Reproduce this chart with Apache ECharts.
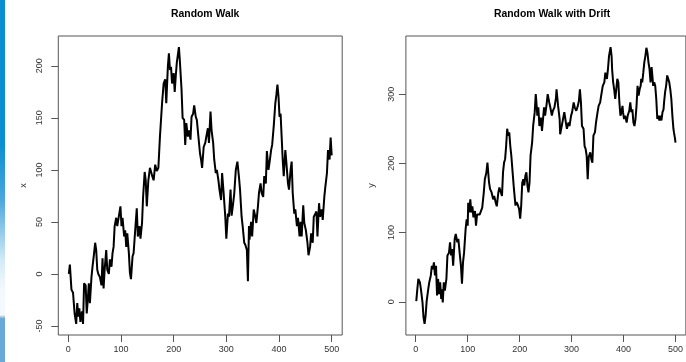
<!DOCTYPE html>
<html><head><meta charset="utf-8">
<script src="https://cdn.jsdelivr.net/npm/echarts@6/dist/echarts.min.js"></script>
<style>html,body{margin:0;padding:0;background:#fff}#c{width:686px;height:362px}</style>
</head><body><div id="c"></div>
<script>
// ---- data ----
const rwIndex = [1,3,6,9,12,15,17,19,21,23,26,28,30,33,35,37,39,41,44,46,49,51,53,55,57,60,63,65,67,69,72,74,77,79,82,84,86,88,91,93,96,99,101,103,106,108,110,112,115,117,119,122,124,127,130,132,135,137,140,142,145,147,149,152,155,158,160,162,165,168,171,174,178,181,184,186,189,191,193,195,197,200,202,204,206,210,212,215,217,220,222,224,227,229,232,234,237,239,242,244,247,250,252,254,257,260,262,265,267,270,272,275,277,280,282,285,287,290,292,295,298,300,303,305,308,310,313,315,318,321,324,326,329,331,334,336,339,341,343,344,347,349,352,355,357,360,362,365,367,370,372,375,377,380,382,385,387,390,393,395,397,399,401,403,405,407,409,412,414,417,419,422,424,426,429,431,434,436,439,441,443,446,448,451,454,456,459,461,464,466,469,471,473,476,478,481,483,486,488,491,493,496,498,500];
const rwValue = [0,9,-15,-18,-38,-48,-28,-41,-33,-46,-36,-48,-9,-11,-38,-25,-9,-28,-3,7,20,30,23,4,0,-3,-11,15,-14,4,23,4,0,14,7,20,26,46,54,46,46,65,46,54,36,42,26,39,20,1,-5,17,20,42,63,36,46,34,49,74,98,90,65,90,102,103,93,90,105,99,102,132,164,183,187,164,199,212,196,199,183,193,175,190,203,218,203,177,150,148,124,145,132,138,129,151,154,162,151,148,132,116,110,102,122,126,132,140,126,156,138,126,110,97,100,90,81,71,97,77,55,34,58,55,81,56,68,77,100,108,93,81,55,46,30,28,23,-7,46,33,50,36,62,55,49,65,78,87,78,74,94,87,118,100,107,119,124,142,164,172,182,171,151,154,132,110,94,119,107,87,81,100,108,78,58,62,46,54,36,50,36,66,49,42,30,18,26,39,30,55,58,60,36,68,55,62,52,74,84,97,119,110,131,114];
const driftIndex = [1,3,5,8,10,13,15,17,19,21,24,26,29,31,33,35,37,39,41,43,45,47,49,50,52,54,56,59,61,64,66,68,70,72,75,77,80,82,85,87,89,91,93,96,98,100,101,103,105,107,109,111,114,116,118,121,123,126,128,131,133,136,138,141,143,146,149,151,154,156,159,161,163,166,168,170,172,174,176,178,180,182,184,187,189,192,194,196,199,201,203,205,207,209,211,213,215,217,219,221,224,226,229,231,233,234,236,238,241,243,245,247,249,252,254,257,259,262,264,267,270,271,274,277,278,281,284,286,289,291,294,296,299,301,304,306,309,312,314,316,318,320,323,325,327,329,331,333,336,338,340,342,345,347,350,352,355,357,360,363,365,368,370,372,375,377,378,380,382,384,386,388,390,392,394,396,398,399,401,403,406,408,411,413,415,417,419,421,423,425,427,429,431,433,434,436,438,440,442,444,446,448,450,452,454,456,457,459,461,463,465,467,469,471,473,475,477,478,480,482,484,486,488,490,492,494,496,497,499,500];
const driftValue = [1,18,33,28,18,-1,-23,-32,-20,1,18,28,38,52,47,57,38,52,9,33,11,28,4,18,-1,28,16,33,67,71,86,67,76,52,91,98,86,91,67,52,26,57,71,105,119,110,143,129,148,129,138,122,131,110,126,124,126,124,136,158,177,187,201,173,163,158,148,153,143,138,158,165,163,153,187,201,206,225,250,240,245,225,211,182,163,139,144,141,134,120,139,172,177,168,182,187,168,158,172,211,230,254,274,300,281,269,281,254,266,247,264,281,269,286,300,288,281,269,276,281,295,307,283,264,242,254,266,274,259,250,259,254,269,274,288,281,276,283,290,307,288,254,250,225,221,211,177,209,216,206,201,240,245,259,274,283,288,298,312,317,331,322,336,355,368,355,336,317,307,293,307,322,317,288,269,274,283,274,264,269,259,269,276,288,274,278,259,254,264,283,312,298,307,312,322,317,331,346,355,367,360,346,336,317,339,322,312,317,312,293,264,269,262,269,262,274,278,288,303,312,327,322,317,307,293,269,250,245,236,230];
const xTickLabels = [0,100,200,300,400,500];
const rwTickLabels = [-50,0,50,100,150,200];
const driftTickLabels = [0,100,200,300];
const titles = ['Random Walk','Random Walk with Drift'];
const yNames = ['x','y'];
const nSteps = 500;

// ---- helpers ----
const FONT = '"Liberation Sans", Arial, Helvetica, sans-serif';
function rRange(arr){const mn=Math.min(...arr),mx=Math.max(...arr),d=(mx-mn)*0.04;return [mn-d,mx+d];}
const xr = [1-(nSteps-1)*0.04, nSteps+(nSteps-1)*0.04];
const y1 = rRange(rwValue), y2 = rRange(driftValue);
const pairs = (xs,ys)=>xs.map((x,i)=>[x,ys[i]]);

const grids = [
  {left:58.3, top:36, width:283.9, height:299},
  {left:405.9, top:36, width:282.5, height:299}
];
function xAx(g){return {gridIndex:g,type:'value',min:xr[0],max:xr[1],
  axisLine:{show:false,onZero:false},splitLine:{show:false},
  axisTick:{show:true,length:7,lineStyle:{color:'#555',width:1},customValues:xTickLabels},
  axisLabel:{customValues:xTickLabels,fontSize:9,color:'#333',margin:10,fontFamily:FONT}};}
function yAx(g,r,ticks,name,margin){return {gridIndex:g,type:'value',min:r[0],max:r[1],
  name:name,nameLocation:'middle',nameGap:30,nameRotate:90,
  nameTextStyle:{fontSize:9,color:'#333',fontFamily:FONT},
  axisLine:{show:false,onZero:false},splitLine:{show:false},
  axisTick:{show:true,length:7,lineStyle:{color:'#555',width:1},customValues:ticks},
  axisLabel:{customValues:ticks,rotate:90,fontSize:9,color:'#333',margin:margin,fontFamily:FONT}};}

const chart = echarts.init(document.getElementById('c'),null,{renderer:'canvas'});
chart.setOption({
  animation:false,
  backgroundColor:'#fff',
  title:[
    {text:titles[0],left:200.2,top:4,textAlign:'center',textStyle:{fontSize:10.4,fontWeight:'bold',color:'#000',fontFamily:FONT}},
    {text:titles[1],left:547.1,top:4,textAlign:'center',textStyle:{fontSize:10.4,fontWeight:'bold',color:'#000',fontFamily:FONT}}
  ],
  graphic:[{type:'rect',left:0,top:0,shape:{width:5,height:362},z:100,
    style:{fill:new echarts.graphic.LinearGradient(0,0,0,1,[
      {offset:0,color:'#0b8fd1'},{offset:0.4,color:'#0b8fd1'},{offset:0.55,color:'#4aa6dc'},
      {offset:0.72,color:'#d4eaf7'},{offset:0.8,color:'#f4f9fd'},{offset:0.87,color:'#f4f9fd'},
      {offset:0.88,color:'#6aa8d8'},{offset:1,color:'#6aa8d8'}])}}],
  grid:grids.map(g=>Object.assign({show:true,borderColor:'#555',borderWidth:1,backgroundColor:'transparent'},g)),
  xAxis:[xAx(0),xAx(1)],
  yAxis:[yAx(0,y1,rwTickLabels,yNames[0],14),yAx(1,y2,driftTickLabels,yNames[1],10)],
  series:[
    {type:'line',xAxisIndex:0,yAxisIndex:0,data:pairs(rwIndex,rwValue),showSymbol:false,symbol:'none',
      lineStyle:{color:'#000',width:2}},
    {type:'line',xAxisIndex:1,yAxisIndex:1,data:pairs(driftIndex,driftValue),showSymbol:false,symbol:'none',
      lineStyle:{color:'#000',width:2}}
  ]
});
</script></body></html>
